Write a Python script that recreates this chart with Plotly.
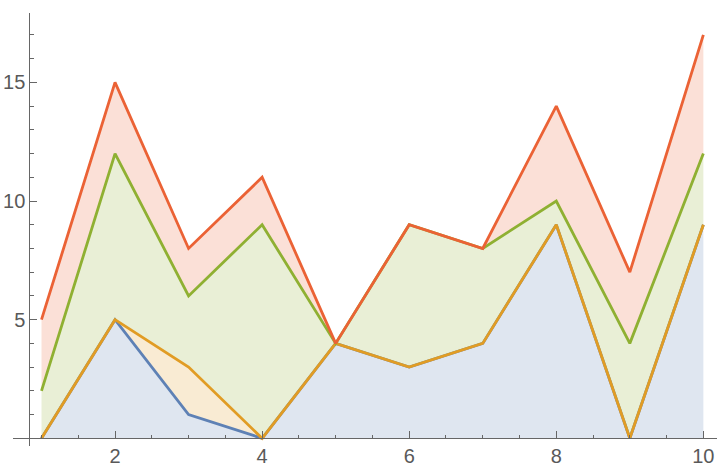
import plotly.graph_objects as go

x_vals = [1, 2, 3, 4, 5, 6, 7, 8, 9, 10]
blue_vals = [0, 5, 1, 0, 4, 3, 4, 9, 0, 9]
orange_vals = [0, 5, 3, 0, 4, 3, 4, 9, 0, 9]
green_vals = [2, 12, 6, 9, 4, 9, 8, 10, 4, 12]
red_vals = [5, 15, 8, 11, 4, 9, 8, 14, 7, 17]

series = [
    ("blue", blue_vals, "#5E81B5", "rgba(94,129,181,0.2)", "tozeroy"),
    ("orange", orange_vals, "#E19C24", "rgba(225,156,36,0.2)", "tonexty"),
    ("green", green_vals, "#8FB032", "rgba(143,176,50,0.2)", "tonexty"),
    ("red", red_vals, "#EB6235", "rgba(235,98,53,0.2)", "tonexty"),
]

fig = go.Figure()
for name, vals, col, fcol, fill in series:
    fig.add_trace(go.Scatter(
        x=x_vals, y=vals, mode="lines", name=name,
        line=dict(color=col, width=2.8),
        fill=fill, fillcolor=fcol, showlegend=False, hoverinfo="skip",
    ))

W, H = 728, 474
plot_left, plot_right, plot_top, plot_bottom = 13, 717, 13, 446
ml = plot_left
mr = W - plot_right
mt = plot_top
mb = H - plot_bottom
pw = W - ml - mr
ph = H - mt - mb
x1_px, x_scale = 41.5, 73.54
y0_px, y_scale = 438.3, 23.73
xr = [1 + (plot_left - x1_px) / x_scale, 1 + (plot_right - x1_px) / x_scale]
yr = [(y0_px - plot_bottom) / y_scale, (y0_px - plot_top) / y_scale]
yaxis_px = 29.3

axis_col = "#666666"
font = dict(family="Liberation Sans, Arial, sans-serif", size=20, color="#595959")

fig.update_layout(
    template="none",
    width=W, height=H,
    margin=dict(l=ml, r=mr, t=mt, b=mb, autoexpand=False),
    paper_bgcolor="white", plot_bgcolor="white",
    hovermode=False,
    xaxis=dict(
        range=xr, showgrid=False, zeroline=False, automargin=False,
        showline=True, linecolor=axis_col, linewidth=1,
        anchor="free", position=(plot_bottom - y0_px) / ph,
        ticks="inside", ticklen=7, tickcolor=axis_col, tickwidth=1,
        tick0=0, dtick=2, tickfont=font,
        minor=dict(dtick=0.5, tick0=0, ticks="inside", ticklen=3.5, tickcolor=axis_col, showgrid=False),
    ),
    yaxis=dict(
        range=yr, showgrid=False, zeroline=False, automargin=False,
        showline=True, linecolor=axis_col, linewidth=1,
        anchor="free", position=(yaxis_px - plot_left) / pw,
        ticks="inside", ticklen=7, tickcolor=axis_col, tickwidth=1,
        tickvals=[5, 10, 15], tickfont=font,
        minor=dict(dtick=1, tick0=0, ticks="inside", ticklen=3.5, tickcolor=axis_col, showgrid=False),
    ),
)

fig.write_html(
    "out.html",
    config={"displayModeBar": False, "staticPlot": True},
    post_script="document.body.style.margin='0';document.body.style.overflow='hidden';",
)
